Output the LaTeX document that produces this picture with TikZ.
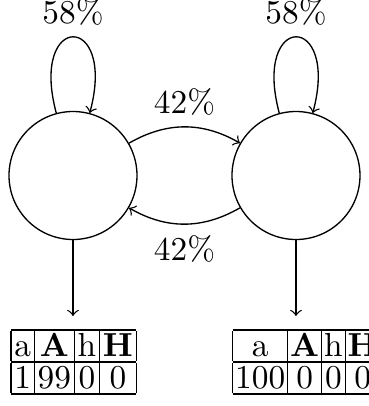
\documentclass[tikz,border=0pt]{standalone}
\newcommand\tstrut{\rule[-1.4pt]{0pt}{9.2pt}}
\begin{document}
\begin{tikzpicture}[x=0.3pt,y=0.3pt,
  state/.style={circle,draw,minimum size=38.4pt,inner sep=0pt},
  tbl/.style={inner sep=4pt,outer sep=0pt},
  arr/.style={->}]
\path[use as bounding box] (0,0) rectangle (369,406);
\clip (0,0) rectangle (369,406);
\node[state] (L) at (73,230.5) {};
\node[state] (R) at (296,230.5) {};
\draw[arr] (L.105) .. controls +(105:105) and +(75:105) .. (L.75) node[midway,above] {58\%};
\draw[arr] (R.105) .. controls +(105:105) and +(75:105) .. (R.75) node[midway,above] {58\%};
\draw[arr] (L) to[bend left=30] node[above] {42\%} (R);
\draw[arr] (R) to[bend left=30] node[below] {42\%} (L);
\renewcommand\arraystretch{0.3}
\node[tbl,anchor=north] (TL) at (73.6,90) {\setlength\tabcolsep{1pt}\begin{tabular}{|c|c|c|c|}\hline
\tstrut a & \textbf{A} & h & \textbf{H}\\\hline
\tstrut 1 & 99 & 0 & 0\\\hline
\end{tabular}};
\node[tbl,anchor=north west] (TR) at (219.4,90) {\setlength\tabcolsep{0.75pt}\begin{tabular}{|c|c|c|c|}\hline
\tstrut a & \textbf{A} & h & \textbf{H}\\\hline
\tstrut 100 & 0 & 0 & 0\\\hline
\end{tabular}};
\draw[arr] (L) -- (L |- TL.north);
\draw[arr] (R) -- (R |- TR.north);
\end{tikzpicture}
\end{document}
